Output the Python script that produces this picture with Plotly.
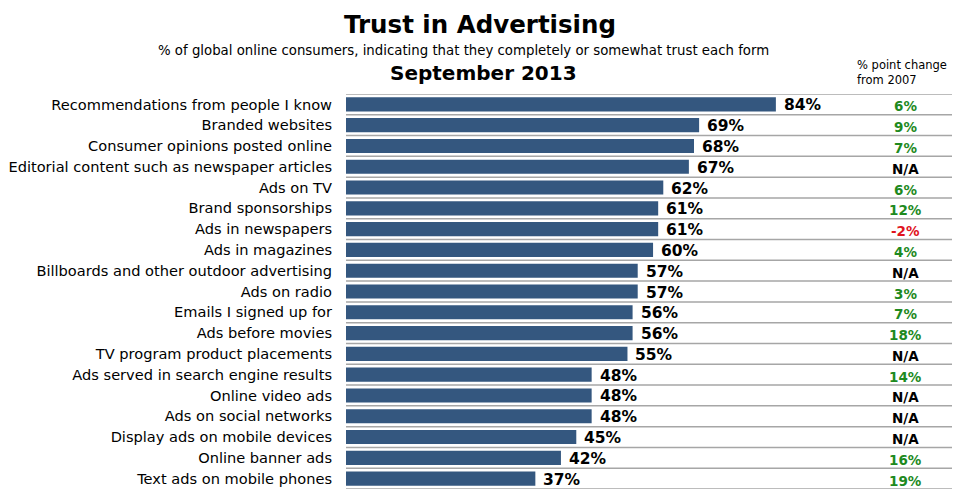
import plotly.graph_objects as go

categories = [
    "Recommendations from people I know",
    "Branded websites",
    "Consumer opinions posted online",
    "Editorial content such as newspaper articles",
    "Ads on TV",
    "Brand sponsorships",
    "Ads in newspapers",
    "Ads in magazines",
    "Billboards and other outdoor advertising",
    "Ads on radio",
    "Emails I signed up for",
    "Ads before movies",
    "TV program product placements",
    "Ads served in search engine results",
    "Online video ads",
    "Ads on social networks",
    "Display ads on mobile devices",
    "Online banner ads",
    "Text ads on mobile phones",
]
trust_2013 = [84, 69, 68, 67, 62, 61, 61, 60, 57, 57, 56, 56, 55, 48, 48, 48, 45, 42, 37]
change_from_2007 = [6, 9, 7, None, 6, 12, -2, 4, None, 3, 7, 18, None, 14, None, None, None, 16, 19]

FONT = "DejaVu Sans, Verdana, sans-serif"
BAR = "#34577f"
GREEN = "#1e8a1e"
RED = "#e0141e"

# The page body has an 8px margin; figure is sized to fill the remaining window.
W, H = 952, 488
OFF = 8
L, R, T, B = 338, 5, 86, 7
pw, ph = W - L - R, H - T - B


def px(x):  # screen x -> paper x
    return (x - OFF - L) / pw


def py(y):  # screen y -> paper y
    return (H - B - (y - OFF)) / ph


n = len(categories)
fig = go.Figure()
fig.add_trace(go.Bar(
    x=trust_2013, y=categories, orientation="h",
    marker=dict(color=BAR, line=dict(width=0)),
    width=0.68, hoverinfo="skip",
))

annotations = []
for cat, v, c in zip(categories, trust_2013, change_from_2007):
    annotations.append(dict(x=v, y=cat, xref="x", yref="y", text=f"<b>{v}%</b>",
                            showarrow=False, xanchor="left", xshift=6, yshift=-1,
                            font=dict(family=FONT, size=15.5, color="black")))
    if c is None:
        txt, col = "N/A", "black"
    else:
        txt, col = f"{c}%", (RED if c < 0 else GREEN)
    annotations.append(dict(x=px(905), y=cat, xref="paper", yref="y", text=f"<b>{txt}</b>",
                            showarrow=False, xanchor="center", yshift=-2,
                            font=dict(family=FONT, size=13.5, color=col)))

shapes = []
for i in range(n + 1):
    shapes.append(dict(type="line", xref="paper", yref="y", x0=0, x1=1,
                       y0=i - 0.5, y1=i - 0.5, line=dict(color="#a6a6a6", width=1.5)))

fig.update_layout(
    width=W, height=H,
    margin=dict(l=L, r=R, t=T, b=B, autoexpand=False),
    paper_bgcolor="white", plot_bgcolor="white",
    showlegend=False,
    xaxis=dict(range=[0, 119], visible=False, fixedrange=True),
    yaxis=dict(categoryorder="array", categoryarray=categories,
               range=[n - 0.5, -0.5], automargin=False,
               showgrid=False, zeroline=False, showline=False, ticks="",
               ticklabelstandoff=13,
               tickfont=dict(family=FONT, size=14.6, color="black")),
    shapes=shapes,
    annotations=annotations,
)

fig.add_annotation(x=px(480), y=py(25), xref="paper", yref="paper", showarrow=False,
                   text="<b>Trust in Advertising</b>", xanchor="center", yanchor="middle",
                   font=dict(family=FONT, size=24.5, color="black"))
fig.add_annotation(x=px(463), y=py(50), xref="paper", yref="paper", showarrow=False,
                   text="% of global online consumers, indicating that they completely or somewhat trust each form",
                   xanchor="center", yanchor="middle",
                   font=dict(family=FONT, size=13.3, color="black"))
fig.add_annotation(x=px(483), y=py(73), xref="paper", yref="paper", showarrow=False,
                   text="<b>September 2013</b>", xanchor="center", yanchor="middle",
                   font=dict(family=FONT, size=20, color="black"))
fig.add_annotation(x=px(855), y=py(73), xref="paper", yref="paper", showarrow=False,
                   text="% point change<br>from 2007", xanchor="left", yanchor="middle", align="left",
                   font=dict(family=FONT, size=11.5, color="black"))

fig.write_html("out.html")
